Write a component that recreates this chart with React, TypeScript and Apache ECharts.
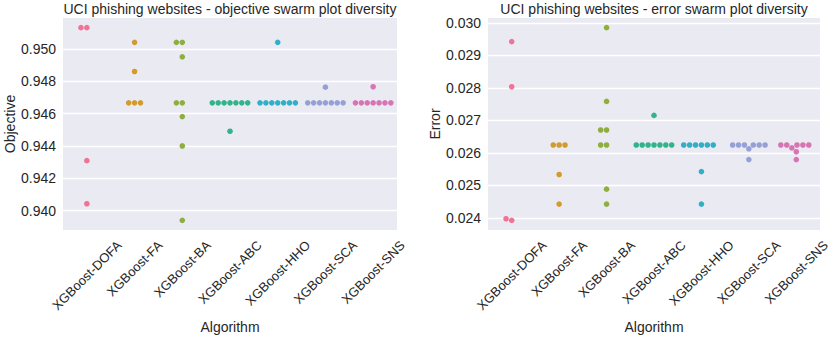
import React, { useEffect, useRef } from "react";
import * as echarts from "echarts";

const algorithms = [
  "XGBoost-DOFA",
  "XGBoost-FA",
  "XGBoost-BA",
  "XGBoost-ABC",
  "XGBoost-HHO",
  "XGBoost-SCA",
  "XGBoost-SNS",
];

const palette = ["#ef7395", "#d39a2d", "#8eae3e", "#31b38b", "#30afc6", "#95a0d6", "#d774b4"];

// Objective values per algorithm
const objDOFA = [0.95133, 0.95133, 0.94309, 0.94042];
const objFA = [0.95042, 0.94861, 0.94667, 0.94667, 0.94667];
const objBA = [0.95042, 0.95042, 0.94952, 0.94667, 0.94667, 0.94582, 0.944, 0.93939];
const objABC = [0.94667, 0.94667, 0.94667, 0.94667, 0.94667, 0.94667, 0.94667, 0.94491];
const objHHO = [0.95042, 0.94667, 0.94667, 0.94667, 0.94667, 0.94667, 0.94667, 0.94667];
const objSCA = [0.94764, 0.94667, 0.94667, 0.94667, 0.94667, 0.94667, 0.94667, 0.94667];
const objSNS = [0.94767, 0.94667, 0.94667, 0.94667, 0.94667, 0.94667, 0.94667, 0.94667];

// Error values per algorithm
const errDOFA = [0.02942, 0.02803, 0.02397, 0.02392];
const errFA = [0.02624, 0.02624, 0.02624, 0.02533, 0.02442];
const errBA = [0.02985, 0.02758, 0.0267, 0.0267, 0.02624, 0.02624, 0.02488, 0.02442];
const errABC = [0.02715, 0.02624, 0.02624, 0.02624, 0.02624, 0.02624, 0.02624, 0.02624];
const errHHO = [0.02624, 0.02624, 0.02624, 0.02624, 0.02624, 0.02624, 0.02542, 0.02442];
const errSCA = [0.02624, 0.02624, 0.02624, 0.02624, 0.02624, 0.02624, 0.02612, 0.02579];
const errSNS = [0.02624, 0.02624, 0.02624, 0.02624, 0.02624, 0.02615, 0.02603, 0.02579];

const objTicks = [0.94, 0.942, 0.944, 0.946, 0.948, 0.95];
const errTicks = [0.024, 0.025, 0.026, 0.027, 0.028, 0.029, 0.03];

const objData = [objDOFA, objFA, objBA, objABC, objHHO, objSCA, objSNS];
const errData = [errDOFA, errFA, errBA, errABC, errHHO, errSCA, errSNS];

const FONT = "'Liberation Sans', Arial, Helvetica, sans-serif";
const TEXT = "#262626";
const DOT_R = 2.8;
const DOT_D = 5.9;
const XLABEL_SIZE = 13;

function paddedExtent(groups: number[][]) {
  const all = groups.flat();
  const lo = Math.min(...all);
  const hi = Math.max(...all);
  const pad = (hi - lo) * 0.05;
  return [lo - pad, hi + pad];
}

function measureText(text: string, size: number) {
  const ctx = document.createElement("canvas").getContext("2d");
  if (!ctx) return text.length * size * 0.55;
  ctx.font = `${size}px ${FONT}`;
  return ctx.measureText(text).width;
}

// beeswarm layout in pixel space (seaborn-like)
function swarmOffsets(values: number[], ys: number[], d: number) {
  const n = values.length;
  const order = values.map((_, i) => i).sort((a, b) => values[a] - values[b] || a - b);
  const placed: { x: number; y: number }[] = [];
  const out = new Array(n).fill(0);
  for (const i of order) {
    const y = ys[i];
    const neigh = placed.filter((p) => Math.abs(p.y - y) < d);
    const lefts: number[] = [];
    const rights: number[] = [];
    for (const p of neigh) {
      const dx = Math.sqrt(Math.max(0, d * d - (p.y - y) * (p.y - y)));
      lefts.push(p.x - dx);
      rights.push(p.x + dx);
    }
    const all = [0].concat(lefts, rights);
    const idx = all.map((_, k) => k).sort((a, b) => Math.abs(all[a]) - Math.abs(all[b]) || a - b);
    let chosen = 0;
    for (const k of idx) {
      const x = all[k];
      const ok = neigh.every((p) => Math.hypot(p.x - x, p.y - y) >= d - 1e-6);
      if (ok) {
        chosen = x;
        break;
      }
    }
    placed.push({ x: chosen, y });
    out[i] = chosen;
  }
  return out;
}

function swarmSeries(groups: number[][], axisIndex: number) {
  const data: number[][] = [];
  groups.forEach((vals, c) => vals.forEach((v, k) => data.push([c, v, k])));
  let cache: { x: number; y: number }[][] | null = null;
  return {
    type: "custom",
    xAxisIndex: axisIndex,
    yAxisIndex: axisIndex,
    silent: true,
    clip: false,
    encode: { x: 0, y: 1 },
    data,
    renderItem: (params: any, api: any) => {
      if (params.dataIndex === 0 || !cache) {
        cache = groups.map((vals, c) => {
          const pts = vals.map((v) => api.coord([c, v]));
          const offs = swarmOffsets(vals, pts.map((p: number[]) => p[1]), DOT_D);
          return pts.map((p: number[], k: number) => ({ x: p[0] + offs[k], y: p[1] }));
        });
      }
      const c = api.value(0);
      const k = api.value(2);
      const pt = cache[c][k];
      return {
        type: "circle",
        shape: { cx: pt.x, cy: pt.y, r: DOT_R },
        style: { fill: palette[c] },
      };
    },
  };
}

function labelSeries(axisIndex: number, yMin: number, widths: number[]) {
  return {
    type: "custom",
    xAxisIndex: axisIndex,
    yAxisIndex: axisIndex,
    silent: true,
    clip: false,
    encode: { x: 0, y: 1 },
    data: algorithms.map((_, i) => [i, yMin]),
    renderItem: (params: any, api: any) => {
      const i = api.value(0);
      const p = api.coord([i, yMin]);
      const L = widths[i];
      return {
        type: "text",
        x: p[0] + 0.3535 * L,
        y: p[1] + 13,
        rotation: Math.PI / 4,
        style: {
          text: algorithms[i],
          fill: TEXT,
          fontSize: XLABEL_SIZE,
          fontFamily: FONT,
          align: "right",
          verticalAlign: "middle",
        },
      };
    },
  };
}

export default function App() {
  const ref = useRef<HTMLDivElement>(null);
  useEffect(() => {
    document.body.style.margin = "0";
    if (!ref.current) return;
    const chart = echarts.init(ref.current, null, { renderer: "svg" });
    const objExt = paddedExtent(objData);
    const errExt = paddedExtent(errData);
    const widths = algorithms.map((a) => measureText(a, XLABEL_SIZE));

    const gridBase = {
      show: true,
      backgroundColor: "#EAEAF2",
      borderWidth: 0,
      top: 18,
      bottom: 104,
    };
    const xAxisBase = {
      type: "category",
      data: algorithms,
      axisLine: { show: false },
      axisTick: { show: false },
      axisLabel: { show: false },
      splitLine: { show: false },
      name: "Algorithm",
      nameLocation: "middle",
      nameGap: 90,
      nameTextStyle: { fontSize: 14, color: TEXT, fontFamily: FONT },
    };
    const yAxisBase = (ticks: number[], ext: number[], name: string, gap: number, idx: number) => ({
      gridIndex: idx,
      type: "value",
      min: ext[0],
      max: ext[1],
      axisLine: { show: false },
      axisTick: { show: false, customValues: ticks },
      axisLabel: {
        customValues: ticks,
        formatter: (v: number) => v.toFixed(3),
        fontSize: 14,
        color: TEXT,
        fontFamily: FONT,
        margin: 7,
      },
      splitLine: { show: true, lineStyle: { color: "#ffffff", width: 1.3 } },
      name,
      nameLocation: "middle",
      nameGap: gap,
      nameTextStyle: { fontSize: 14, color: TEXT, fontFamily: FONT },
    });

    chart.setOption({
      animation: false,
      backgroundColor: "#ffffff",
      textStyle: { fontFamily: FONT },
      grid: [
        { ...gridBase, left: 63, right: 435 },
        { ...gridBase, left: 488, right: 12 },
      ],
      xAxis: [
        { ...xAxisBase, gridIndex: 0 },
        { ...xAxisBase, gridIndex: 1 },
      ],
      yAxis: [
        yAxisBase(objTicks, objExt, "Objective", 46, 0),
        yAxisBase(errTicks, errExt, "Error", 46, 1),
      ],
      graphic: [
        {
          type: "text",
          x: 230,
          y: 9,
          silent: true,
          style: {
            text: "UCI phishing websites - objective swarm plot diversity",
            fill: TEXT,
            fontSize: 14,
            fontFamily: FONT,
            align: "center",
            verticalAlign: "middle",
          },
        },
        {
          type: "text",
          x: 654,
          y: 9,
          silent: true,
          style: {
            text: "UCI phishing websites - error swarm plot diversity",
            fill: TEXT,
            fontSize: 14,
            fontFamily: FONT,
            align: "center",
            verticalAlign: "middle",
          },
        },
      ],
      series: [
        swarmSeries(objData, 0),
        swarmSeries(errData, 1),
        labelSeries(0, objExt[0], widths),
        labelSeries(1, errExt[0], widths),
      ],
    });
    return () => chart.dispose();
  }, []);
  return <div ref={ref} style={{ width: 832, height: 339 }} />;
}
